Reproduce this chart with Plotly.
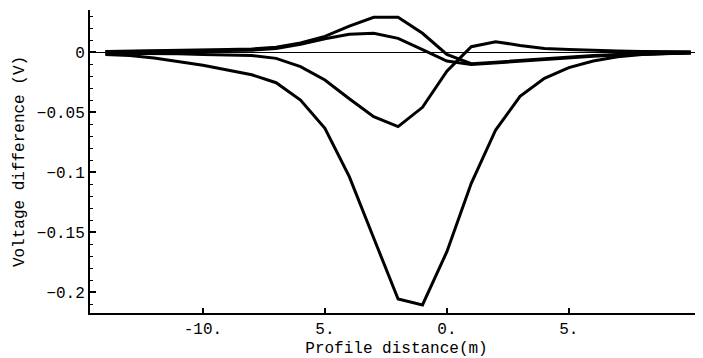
import plotly.graph_objects as go

# Profile positions (m)
distance = list(range(-14, 11))

# Four measured voltage-difference profiles (V)
profile_large = [-0.002, -0.003, -0.005, -0.008, -0.011, -0.015, -0.019, -0.0256, -0.040,
                 -0.0636, -0.1039, -0.155, -0.2058, -0.2108, -0.1664, -0.1094, -0.065,
                 -0.037, -0.022, -0.013, -0.0075, -0.004, -0.002, -0.0012, -0.0008]
profile_medium = [-0.001, -0.001, -0.0012, -0.0015, -0.002, -0.0025, -0.003, -0.0053, -0.0122,
                  -0.0233, -0.039, -0.0539, -0.0622, -0.0461, -0.016, 0.0044, 0.0086,
                  0.0055, 0.003, 0.002, 0.0012, 0.0008, 0.0005, 0.0003, 0.0002]
profile_high_bump = [0.0005, 0.0007, 0.001, 0.0012, 0.0015, 0.002, 0.0025, 0.004, 0.0075,
                     0.013, 0.0215, 0.0289, 0.0289, 0.0156, -0.002, -0.0098, -0.0085,
                     -0.007, -0.0055, -0.004, -0.003, -0.002, -0.0015, -0.001, -0.0007]
profile_low_bump = [0.0003, 0.0005, 0.0007, 0.0009, 0.0011, 0.0013, 0.0015, 0.003, 0.0065,
                    0.011, 0.0147, 0.0156, 0.0114, 0.002, -0.0075, -0.0105, -0.009,
                    -0.0075, -0.006, -0.0045, -0.0035, -0.0025, -0.0018, -0.0012, -0.0008]

x_tickvals = [-10, -5, 0, 5]
x_ticktext = ["-10.", "5.", "0.", "5."]
y_tickvals = [0, -0.05, -0.1, -0.15, -0.2]
y_ticktext = ["0", "\u22120.05", "\u22120.1", "\u22120.15", "\u22120.2"]

FONT = "Courier New, Liberation Mono, DejaVu Sans Mono, monospace"

fig = go.Figure()
for ys in [profile_large, profile_medium, profile_high_bump, profile_low_bump]:
    fig.add_trace(go.Scatter(x=distance, y=ys, mode="lines",
                             line=dict(color="black", width=3),
                             showlegend=False, hoverinfo="skip"))

# page body has an 8px default margin; size the figure to fit the window
fig.update_layout(
    width=695, height=350,
    margin=dict(l=82, r=0, t=2, b=45),
    paper_bgcolor="white", plot_bgcolor="white",
    font=dict(family=FONT, size=16, color="black"),
    xaxis=dict(range=[-14.63, 10.5], tickvals=x_tickvals, ticktext=x_ticktext,
               automargin=False,
               showline=True, linecolor="black", linewidth=2,
               ticks="inside", ticklen=5, tickwidth=1.5, tickcolor="black",
               showgrid=False, zeroline=False,
               title=dict(text="Profile distance(m)", standoff=4,
                          font=dict(family=FONT, size=16))),
    yaxis=dict(range=[-0.2175, 0.035], tickvals=y_tickvals, ticktext=y_ticktext,
               automargin=False,
               showline=True, linecolor="black", linewidth=2,
               ticks="inside", ticklen=6, tickwidth=1.5, tickcolor="black",
               minor=dict(ticks="inside", ticklen=3, dtick=0.01, tickcolor="black", tickwidth=1),
               showgrid=False, zeroline=True, zerolinecolor="black", zerolinewidth=1,
               title=dict(text="Voltage difference (V)", standoff=8,
                          font=dict(family=FONT, size=16))),
)

fig.write_html("out.html")
